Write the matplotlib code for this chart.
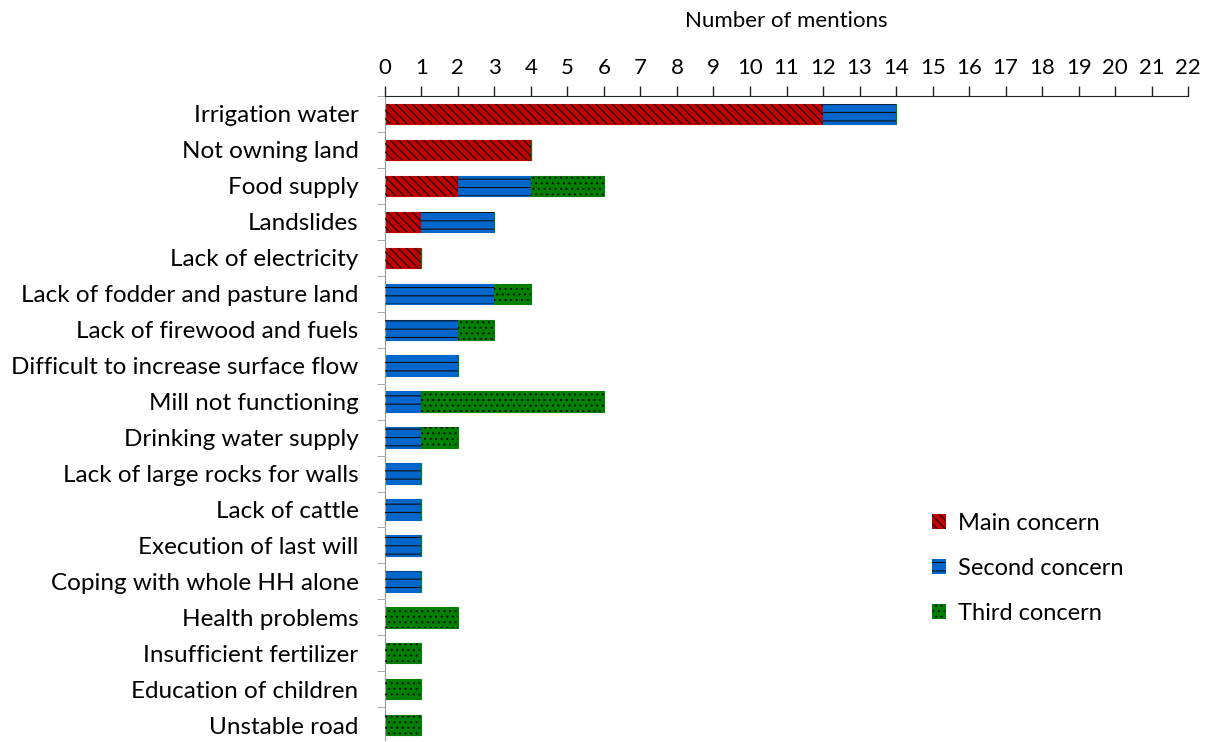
import matplotlib.pyplot as plt
import numpy as np
from matplotlib.patches import Patch

plt.rcParams['font.family'] = ['Lato', 'DejaVu Sans']
plt.rcParams['hatch.linewidth'] = 0.8

categories = [
    "Irrigation water", "Not owning land", "Food supply", "Landslides",
    "Lack of electricity", "Lack of fodder and pasture land",
    "Lack of firewood and fuels", "Difficult to increase surface flow",
    "Mill not functioning", "Drinking water supply",
    "Lack of large rocks for walls", "Lack of cattle",
    "Execution of last will", "Coping with whole HH alone",
    "Health problems", "Insufficient fertilizer", "Education of children",
    "Unstable road",
]
main = [12, 4, 2, 1, 1, 0, 0, 0, 0, 0, 0, 0, 0, 0, 0, 0, 0, 0]
second = [2, 0, 2, 2, 0, 3, 2, 2, 1, 1, 1, 1, 1, 1, 0, 0, 0, 0]
third = [0, 0, 2, 0, 0, 1, 1, 0, 5, 1, 0, 0, 0, 0, 2, 1, 1, 1]

series = [
    ("Main concern", main, "#C00000", "\\\\\\\\"),
    ("Second concern", second, "#0066CC", "--"),
    ("Third concern", third, "#008000", "..."),
]

fig = plt.figure(figsize=(12.1, 7.42), dpi=100)
ax = fig.add_axes([0.318, 0.003, 0.664, 0.868])

y = np.arange(len(categories))
left = np.zeros(len(categories))
handles = []
for name, vals, col, hatch in series:
    vals = np.array(vals, dtype=float)
    ax.barh(y, vals, left=left, height=0.56, color=col, edgecolor=col,
            linewidth=0.8, zorder=2)
    # hatch drawn as a second layer so it stays dark
    ax.barh(y, vals, left=left, height=0.56, fill=False, edgecolor="#111111",
            hatch=hatch, linewidth=0, zorder=3)
    left += vals
    handles.append(Patch(facecolor=col, edgecolor="#111111", hatch=hatch,
                         linewidth=0, label=name))

ax.set_xlim(0, 22)
ax.set_ylim(len(categories) - 0.6, -0.5)
ax.xaxis.tick_top()
ax.xaxis.set_label_position("top")
ax.set_xticks(range(0, 23))
ax.tick_params(axis="x", length=7, width=1, color="#222222", labelsize=16, pad=6)
ax.set_xlabel("Number of mentions", fontsize=16, labelpad=22)

ax.set_yticks(y)
ax.set_yticklabels(categories, fontsize=17.5)
ax.set_yticks(np.arange(-0.5, len(categories) - 0.5, 1), minor=True)
ax.tick_params(axis="y", which="major", length=0, pad=19)
ax.tick_params(axis="y", which="minor", length=6, color="#999999")

for s in ["right", "bottom"]:
    ax.spines[s].set_visible(False)
ax.spines["left"].set_color("#999999")
ax.spines["top"].set_color("#222222")

ax.legend(handles=handles, loc="upper left", bbox_to_anchor=(0.655, 0.385),
          frameon=False, fontsize=17, handlelength=0.6, handleheight=0.6,
          handletextpad=0.5, labelspacing=1.02)

fig.savefig("out.png", dpi=100)
